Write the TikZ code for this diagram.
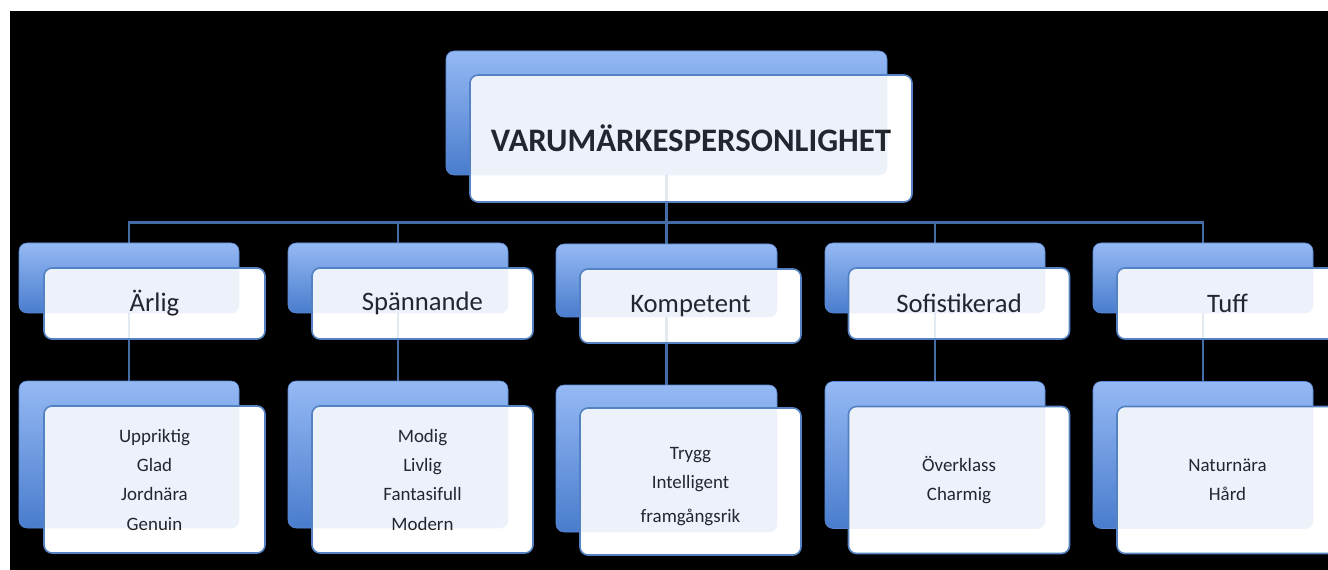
\documentclass[tikz,border=0pt]{standalone}
\usepackage{fontspec}
\setmainfont{Carlito}
\pgfdeclarelayer{bgrect}
\pgfdeclarelayer{lines}
\pgfdeclarelayer{over}
\pgfsetlayers{bgrect,lines,main,over}
\definecolor{backtop}{RGB}{158,192,248}
\definecolor{backbot}{RGB}{74,125,206}
\definecolor{frontline}{RGB}{84,130,195}
\definecolor{connc}{RGB}{68,108,165}
\definecolor{txt}{RGB}{30,30,30}
\tikzset{
  wh/.style 2 args={minimum width=#1*0.75pt, minimum height=#2*0.75pt},
  backbox/.style={rectangle, rounded corners=6pt, inner sep=0pt,
    top color=backtop, bottom color=backbot, draw=backbot!80!backtop, line width=0.4pt},
  frontbox/.style={rectangle, rounded corners=6pt, inner sep=0pt, align=center,
    fill=white, draw=frontline, line width=1.2pt, text=txt},
  tint/.style={fill=backbot, fill opacity=0.1, rounded corners=6pt},
  titlefont/.style={font=\fontsize{24.6}{30}\selectfont\bfseries},
  catfont/.style={font=\fontsize{20}{24}\selectfont},
  itemfont/.style={font=\fontsize{14.2}{22}\selectfont},
  conn/.style={draw=connc, line width=1.8pt},
  faint/.style={draw=connc, line width=1.8pt, draw opacity=0.15}
}
\begin{document}
\begin{tikzpicture}[x=0.75pt,y=-0.75pt]
\useasboundingbox (0,0) rectangle (1328,570);
\begin{pgfonlayer}{bgrect}
  \fill[white] (0,0) rectangle (1328,570);
  \fill[black] (10,11) rectangle (1328,570);
\end{pgfonlayer}
\coordinate (bus) at (0,222.5);
% title
\node[backbox, wh={441}{124}] (tb) at (666.5,113) {};
\node[frontbox, titlefont, wh={442}{127}] (tf) at (691,138.5) {VARUMÄRKESPERSONLIGHET};
% level 1
\node[backbox, wh={220}{70}] (a1) at (129,278) {};
\node[frontbox, catfont, wh={221}{71}] (a1f) at (154.5,303.5) {Ärlig};
\node[backbox, wh={220}{70}] (b1) at (398,278) {};
\node[frontbox, catfont, wh={221}{71}] (b1f) at (422.5,303.5) {Spännande};
\node[backbox, wh={221}{73}] (c1) at (666.5,280.5) {};
\node[frontbox, catfont, wh={221}{74}] (c1f) at (690.5,306) {Kompetent};
\node[backbox, wh={220}{70}] (d1) at (935,278) {};
\node[frontbox, catfont, wh={221}{71}] (d1f) at (959,303.5) {Sofistikerad};
\node[backbox, wh={220}{70}] (e1) at (1203,278) {};
\node[frontbox, catfont, wh={221}{71}] (e1f) at (1227.5,303.5) {Tuff};
% level 2
\node[backbox, wh={220}{147}] (a2) at (129,454.5) {};
\node[frontbox, itemfont, wh={221}{147}] (a2f) at (154.5,479.5) {Uppriktig\\Glad\\Jordnära\\Genuin};
\node[backbox, wh={220}{147}] (b2) at (398,454.5) {};
\node[frontbox, itemfont, wh={221}{147}] (b2f) at (422.5,479.5) {Modig\\Livlig\\Fantasifull\\Modern};
\node[backbox, wh={221}{147}] (c2) at (666.5,458.5) {};
\node[frontbox, wh={221}{147}] (c2f) at (690.5,481.5) {};
\node[itemfont, text=txt, align=center, inner sep=0pt] (c2t) at (690.5,486.5) {Trygg\\Intelligent\\[3pt]framgångsrik};
\node[backbox, wh={220}{147}] (d2) at (935,455) {};
\node[frontbox, itemfont, wh={221}{147}] (d2f) at (959,480) {Överklass\\Charmig};
\node[backbox, wh={220}{147}] (e2) at (1203,455) {};
\node[frontbox, itemfont, wh={221}{147}] (e2f) at (1227.5,480) {Naturnära\\Hård};
% connectors
\begin{pgfonlayer}{lines}
  \draw[conn] (tb.center) -- (tb.center |- bus);
  \draw[conn] (a1.north) -- (a1.north |- bus) -- (e1.north |- bus) -- (e1.north);
  \draw[conn] (b1.north) -- (b1.north |- bus);
  \draw[conn] (c1.north) -- (c1.north |- bus);
  \draw[conn] (d1.north) -- (d1.north |- bus);
  \draw[conn] (a1.center) -- (a2.north);
  \draw[conn] (b1.center) -- (b2.north);
  \draw[conn] (c1.center) -- (c2.north);
  \draw[conn] (d1.center) -- (d2.north);
  \draw[conn] (e1.center) -- (e2.north);
\end{pgfonlayer}
% translucency of the front cards: back card and connector faintly showing through
\begin{pgfonlayer}{over}
  \foreach \n in {tb,a1,b1,c1,d1,e1,a2,b2,c2,d2,e2}{
    \fill[tint] (\n.south west) rectangle (\n.north east);
  }
  \foreach \n/\f in {tb/tf,a1/a1f,b1/b1f,c1/c1f,d1/d1f,e1/e1f}{
    \draw[faint] (\n.south) -- (\n.south |- \f.south);
  }
\end{pgfonlayer}
\end{tikzpicture}
\end{document}
